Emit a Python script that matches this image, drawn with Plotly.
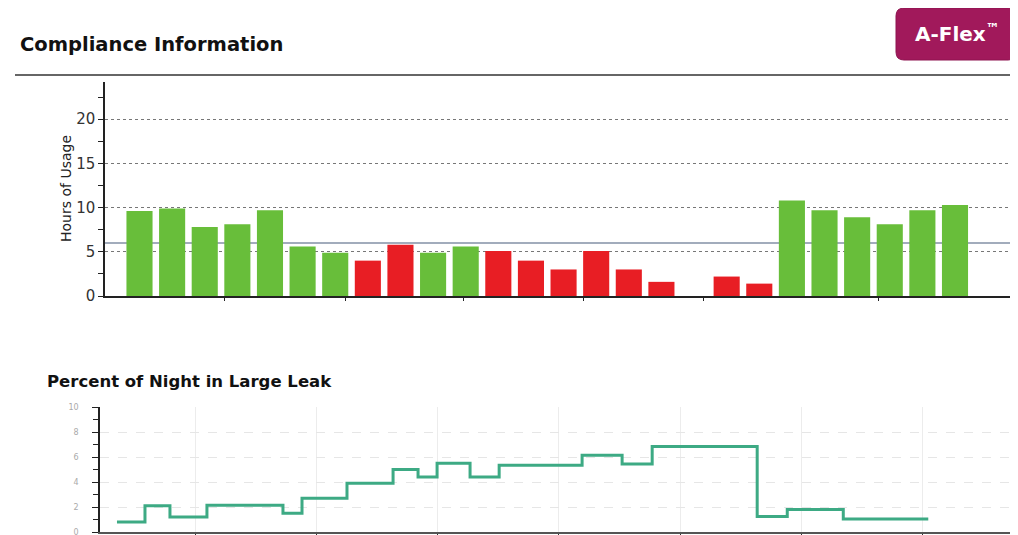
import plotly.graph_objects as go

# ---------------- data ----------------
# Upper chart: hours of usage per day (day 17 had no usage)
days = list(range(26))
hours = [9.6, 9.9, 7.8, 8.1, 9.7, 5.6, 4.9, 4.0, 5.8, 4.9, 5.6, 5.1, 4.0, 3.0,
         5.1, 3.0, 1.6, 0.0, 2.2, 1.4, 10.8, 9.7, 8.9, 8.1, 9.7, 10.3]
compliant = [1, 1, 1, 1, 1, 1, 1, 0, 0, 1, 1, 0, 0, 0,
             0, 0, 0, 0, 0, 0, 1, 1, 1, 1, 1, 1]
usage_target = 6
hours_ticks = [0, 5, 10, 15, 20]

# Lower chart: percent of night in large leak (step series, x in weeks)
leak_x = [0.355, 0.586, 0.792, 1.097, 1.724, 1.881, 2.252, 2.632, 2.838, 2.995,
          3.267, 3.507, 4.191, 4.521, 4.769, 5.635, 5.883, 6.345, 7.046]
leak_pct = [0.8, 2.1, 1.2, 2.15, 1.5, 2.7, 3.9, 5.0, 4.4, 5.5,
            4.4, 5.35, 6.15, 5.45, 6.85, 1.25, 1.8, 1.05]
leak_ticks = [0, 2, 4, 6, 8, 10]
week_ticks = [1, 2, 3, 4, 5, 6, 7]

GREEN = "#68be3a"
RED = "#e81e24"
W, H = 1018, 535
OFF = 8  # page body margin in the viewer


def px(x):
    return (x - OFF) / W


def py(y):
    return 1 - (y - OFF) / H


# upper x calibration: slot i centred at 139.5 + 32.62*i (screen px)
def slot(p):
    return (p - 139.5) / 32.62


bar_colors = [GREEN if c else RED for c in compliant]

fig = go.Figure()
fig.add_trace(go.Bar(x=days, y=hours, marker=dict(color=bar_colors, line=dict(width=0)),
                     width=0.8, xaxis="x", yaxis="y", showlegend=False, hoverinfo="x+y"))

step_x = leak_x
step_y = leak_pct + [leak_pct[-1]]
fig.add_trace(go.Scatter(x=step_x, y=step_y, mode="lines", line=dict(color="#3daa84", width=3, shape="hv"),
                         xaxis="x2", yaxis="y2", showlegend=False))

font_main = "DejaVu Sans"

fig.update_layout(
    width=W, height=H,
    margin=dict(l=0, r=0, t=0, b=0, pad=0),
    paper_bgcolor="white", plot_bgcolor="white",
    bargap=0.2,
    xaxis=dict(domain=[px(105), 1.0], range=[slot(105), slot(W + OFF)], showgrid=False, zeroline=False,
               showline=True, linecolor="#222", linewidth=1.5, automargin=False,
               tickvals=[2.62, 6.30, 9.92, 13.6, 17.3, 22.65], ticks="outside", ticklen=3,
               tickcolor="#222", showticklabels=False, anchor="y"),
    yaxis=dict(domain=[py(296), py(82)], range=[0, 24.2], showline=True, linecolor="#222", linewidth=1.5,
               automargin=False,
               tickvals=hours_ticks, ticktext=[str(v) for v in hours_ticks], ticks="outside", ticklen=5,
               tickcolor="#222", tickwidth=1.2,
               tickfont=dict(family=font_main, size=15, color="#333"),
               showgrid=True, gridcolor="#777", griddash="dot", gridwidth=1.3, zeroline=False,
               minor=dict(dtick=2.5, tick0=0, ticks="outside", ticklen=5, tickcolor="#222", showgrid=False),
               anchor="x"),
    yaxis3=dict(overlaying="y", range=[0, 24.2], showline=False, showgrid=False, zeroline=False,
                automargin=False,
                tickvals=[i * 2.5 for i in range(10)], ticks="inside", ticklen=5, tickcolor="#222",
                showticklabels=False, anchor="x", side="left"),
    xaxis2=dict(domain=[px(100), px(1010)], range=[0.215, 7.72], showline=True, linecolor="#555", linewidth=2,
                automargin=False,
                tickvals=week_ticks, ticks="outside", ticklen=6, tickcolor="#333", showticklabels=False,
                showgrid=True, gridcolor="#ececec", gridwidth=1, zeroline=False, anchor="y2"),
    yaxis2=dict(domain=[py(532), py(407)], range=[0, 10], showline=True, linecolor="#222", linewidth=1.5,
                automargin=False,
                tickvals=leak_ticks, ticktext=[str(v) for v in leak_ticks], ticks="outside", ticklen=6,
                tickcolor="#222", ticklabelstandoff=12,
                tickfont=dict(family=font_main, size=8, color="#aaaaaa"),
                showgrid=True, gridcolor="#e6e6e6", griddash="dash", gridwidth=1, zeroline=False,
                minor=dict(dtick=1, tick0=0, ticks="outside", ticklen=5, tickcolor="#222", showgrid=False),
                anchor="x2"),
)

# usage target reference line
fig.add_shape(type="line", xref="x domain", x0=0, x1=1, yref="y", y0=usage_target, y1=usage_target,
              line=dict(color="#8391a6", width=1.5), layer="below")

# header rule
fig.add_shape(type="line", xref="paper", yref="paper", x0=px(15), x1=1.0, y0=py(75), y1=py(75),
              line=dict(color="#333", width=1.5))

# rounded badge
x0, x1, y0, y1, r = 896, 1016, 8, 60, 8
path = (f"M {px(x0 + r)},{py(y0)} L {px(x1 - r)},{py(y0)} Q {px(x1)},{py(y0)} {px(x1)},{py(y0 + r)} "
        f"L {px(x1)},{py(y1 - r)} Q {px(x1)},{py(y1)} {px(x1 - r)},{py(y1)} "
        f"L {px(x0 + r)},{py(y1)} Q {px(x0)},{py(y1)} {px(x0)},{py(y1 - r)} "
        f"L {px(x0)},{py(y0 + r)} Q {px(x0)},{py(y0)} {px(x0 + r)},{py(y0)} Z")
fig.add_shape(type="path", xref="paper", yref="paper", path=path,
              fillcolor="#a1195b", line=dict(color="#8e1450", width=1))

fig.add_annotation(x=px(957), y=py(33), xref="paper", yref="paper", xanchor="center", yanchor="middle",
                   showarrow=False, text="<b>A-Flex<sup>™</sup></b>",
                   font=dict(family=font_main, size=20, color="white"))

fig.add_annotation(x=px(18), y=py(45), xref="paper", yref="paper", xanchor="left", yanchor="middle",
                   showarrow=False, text="<b>Compliance Information</b>",
                   font=dict(family=font_main, size=19.5, color="#111"))

fig.add_annotation(x=px(45), y=py(381), xref="paper", yref="paper", xanchor="left", yanchor="middle",
                   showarrow=False, text="<b>Percent of Night in Large Leak</b>",
                   font=dict(family=font_main, size=16.5, color="#111"))

fig.add_annotation(x=px(66), y=py(189), xref="paper", yref="paper", xanchor="center", yanchor="middle",
                   textangle=-90, showarrow=False,
                   text="Hours of Usage", font=dict(family=font_main, size=14, color="#222"))

fig.write_html("out.html")
